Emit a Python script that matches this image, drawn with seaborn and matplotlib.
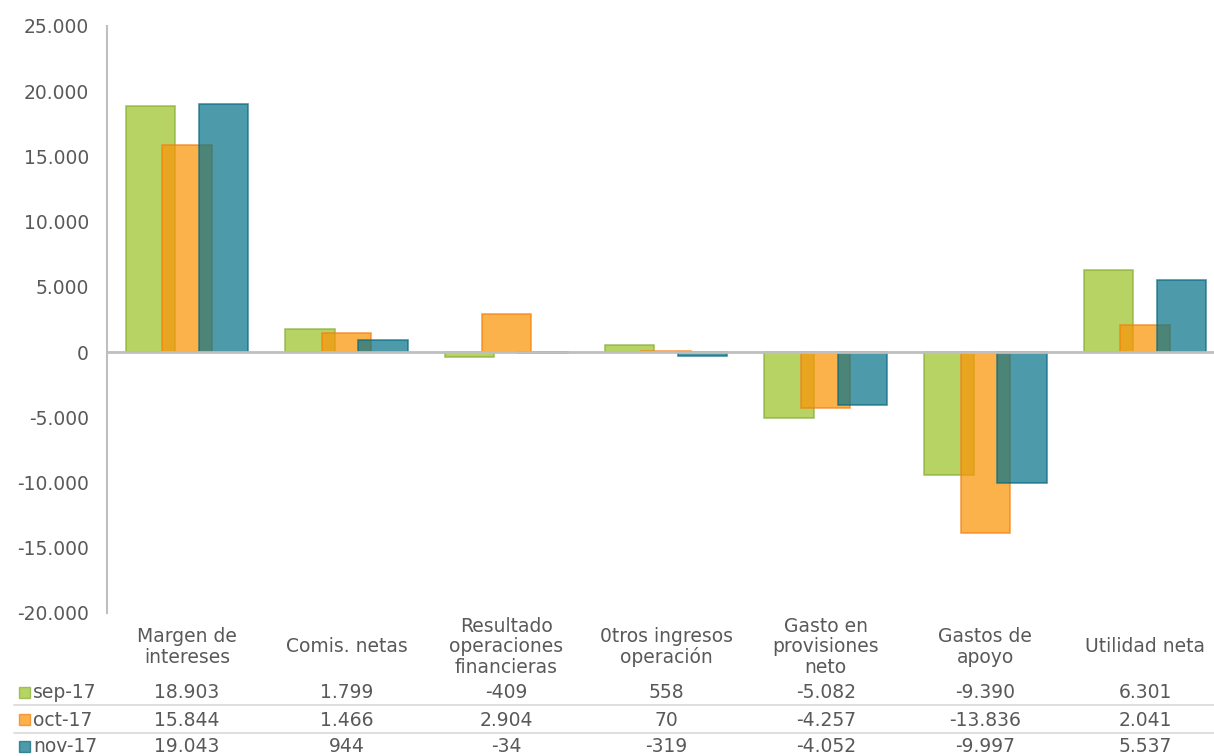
import matplotlib
matplotlib.use('Agg')
import matplotlib.pyplot as plt
import matplotlib.transforms as mtransforms
from matplotlib.lines import Line2D
from matplotlib.patches import Rectangle
import seaborn as sns
import numpy as np

# Data
categories = ['Margen de\nintereses', 'Comis. netas', 'Resultado\noperaciones\nfinancieras',
              '0tros ingresos\noperación', 'Gasto en\nprovisiones\nneto', 'Gastos de\napoyo',
              'Utilidad neta']
series = ['sep-17', 'oct-17', 'nov-17']
sep_17 = [18903, 1799, -409, 558, -5082, -9390, 6301]
oct_17 = [15844, 1466, 2904, 70, -4257, -13836, 2041]
nov_17 = [19043, 944, -34, -319, -4052, -9997, 5537]
y_ticks = [-20000, -15000, -10000, -5000, 0, 5000, 10000, 15000, 20000, 25000]

values = [sep_17, oct_17, nov_17]
faces = ['#9BC328', '#FC9405', '#087489']
edges = ['#86AE38', '#F47F10', '#0A6A80']
offsets = [-0.229, 0.0, 0.229]
text_col = '#595959'
grey = '#BFBFBF'


def fmt(v):
    return f'{v:,}'.replace(',', '.')


sns.set_theme(style='white')
plt.rcParams['font.family'] = ['DejaVu Sans']

W, H = 1214, 756
fig = plt.figure(figsize=(W / 100, H / 100), dpi=100)
ax = fig.add_axes([107 / W, 1 - 613 / H, (1225 - 107) / W, (613 - 26) / H])

pos = np.arange(len(categories))
for vals, off, fc, ec in zip(values, offsets, faces, edges):
    sns.barplot(x=pos + off, y=vals, native_scale=True, width=0.31, color=fc,
                saturation=1, alpha=0.72, edgecolor=ec, linewidth=1.2,
                errorbar=None, ax=ax)

ax.axhline(0, color=grey, lw=2, zorder=5)
ax.set_xlim(-0.5, 6.5)
ax.set_ylim(-20000, 25000)
ax.set_xticks([])
ax.set_yticks(y_ticks)
ax.set_yticklabels([fmt(t) for t in y_ticks])
ax.tick_params(axis='y', length=0, pad=13, labelsize=13.5, labelcolor=text_col)
for s in ['top', 'right', 'bottom']:
    ax.spines[s].set_visible(False)
ax.spines['left'].set_color(grey)
ax.spines['left'].set_linewidth(1.5)

# data table below the chart, columns follow the category positions
tr = mtransforms.blended_transform_factory(ax.transData, fig.transFigure)
for x, lab in zip(pos, categories):
    ax.text(x, 1 - 647 / H, lab, transform=tr, ha='center', va='center', ma='center',
            fontsize=13.5, color=text_col, linespacing=1.1, clip_on=False)

row_y = [693, 720, 747]
for name, vals, fc, ec, ry in zip(series, values, faces, edges, row_y):
    fig.patches.append(Rectangle((19 / W, 1 - (ry + 5) / H), 11 / W, 11 / H,
                                 transform=fig.transFigure, facecolor=fc,
                                 edgecolor=ec, alpha=0.72, lw=1))
    fig.text(33 / W, 1 - ry / H, name, ha='left', va='center',
             fontsize=13.5, color=text_col)
    for x, v in zip(pos, vals):
        ax.text(x, 1 - ry / H, fmt(v), transform=tr, ha='center', va='center',
                fontsize=13.5, color=text_col, clip_on=False)

for ly in [705, 733]:
    fig.lines.append(Line2D([14 / W, 1.0], [1 - ly / H, 1 - ly / H],
                            transform=fig.transFigure, color='#D9D9D9', lw=1.2))

fig.savefig('out.png', dpi=100)
